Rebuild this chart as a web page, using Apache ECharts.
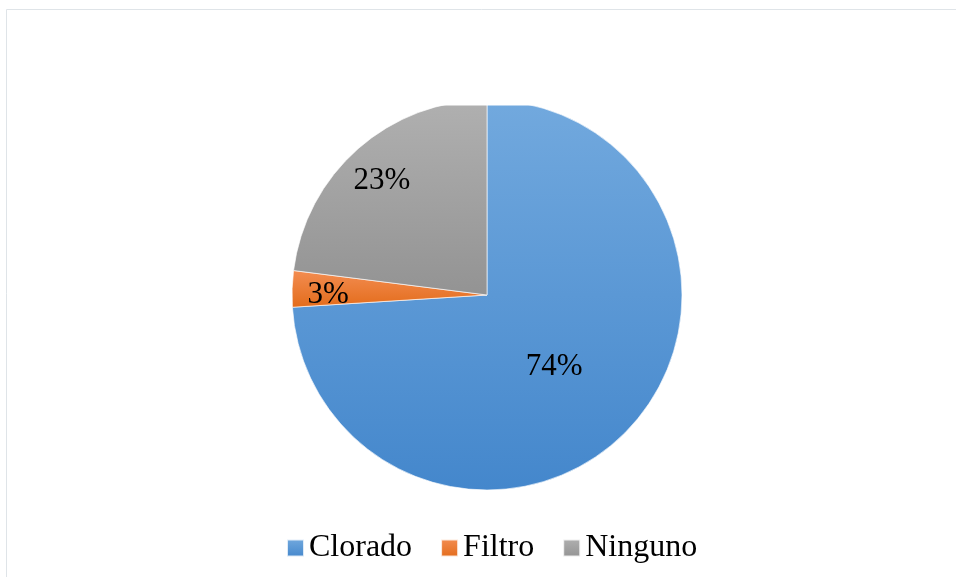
<!DOCTYPE html>
<html>
<head>
<meta charset="utf-8">
<script src="https://cdn.jsdelivr.net/npm/echarts@6/dist/echarts.min.js"></script>
<style>
  html, body { margin: 0; padding: 0; background: #fff; }
  #chart { width: 956px; height: 577px; }
</style>
</head>
<body>
<div id="chart"></div>
<script>
// data
const categories = ["Clorado", "Filtro", "Ninguno"];
const values = [74, 3, 23];
// label placement along the radius: main slice gets the inner label, small ones the outer ring
const innerLabel = [true, false, false];

const gradients = [
  ["#72a9de", "#4487cc"],
  ["#f38d52", "#e36c1b"],
  ["#b0b0b0", "#939393"],
];

const font = "Liberation Serif";

const chart = echarts.init(document.getElementById("chart"));

const grad = (c) =>
  new echarts.graphic.LinearGradient(0, 0, 0, 1, [
    { offset: 0, color: c[0] },
    { offset: 1, color: c[1] },
  ]);

const mainData = categories.map((name, i) => ({
  name,
  value: values[i],
  itemStyle: { color: grad(gradients[i]) },
  label: { show: innerLabel[i] },
}));

const ringData = categories.map((name, i) => ({
  name,
  value: values[i],
  label: { show: !innerLabel[i] },
}));

const labelStyle = {
  position: "inner",
  formatter: "{d}%",
  fontFamily: font,
  fontSize: 31,
  color: "#000",
};

const options = {
  animation: false,
  backgroundColor: "#fff",
  legend: {
    bottom: 8,
    left: 281,
    itemWidth: 17,
    itemHeight: 17,
    itemGap: 28,
    icon: "rect",
    textStyle: { fontFamily: font, fontSize: 32, color: "#000" },
    data: categories,
  },
  graphic: [
    {
      // hides the top of the pie, as in the reference
      type: "rect",
      z: 100,
      shape: { x: 8, y: 11, width: 948, height: 94.5 },
      style: { fill: "#fff" },
    },
    {
      type: "polyline",
      z: 101,
      shape: { points: [[6.5, 577], [6.5, 9.5], [956, 9.5]] },
      style: { stroke: "#dfe4e8", lineWidth: 1, fill: null },
    },
  ],
  series: [
    {
      type: "pie",
      center: [487, 295],
      radius: [0, 195],
      startAngle: 90,
      clockwise: true,
      data: mainData,
      itemStyle: { borderColor: "rgba(255,255,255,0.8)", borderWidth: 0.8 },
      label: Object.assign({}, labelStyle, { offset: [-6, 3] }),
      labelLine: { show: false },
      emphasis: { disabled: true },
    },
    {
      type: "pie",
      center: [487, 295],
      radius: [117, 195],
      startAngle: 90,
      clockwise: true,
      silent: true,
      legendHoverLink: false,
      data: ringData,
      itemStyle: { color: "transparent", borderWidth: 0 },
      label: Object.assign({}, labelStyle, { offset: [0, 5] }),
      labelLine: { show: false },
      emphasis: { disabled: true },
    },
  ],
};

chart.setOption(options);
</script>
</body>
</html>
